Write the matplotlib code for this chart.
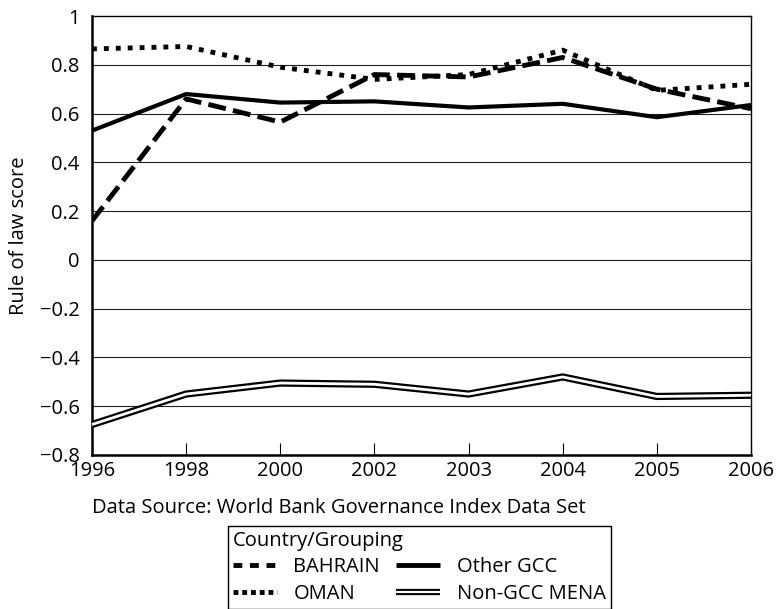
import matplotlib
matplotlib.use("Agg")
import matplotlib.pyplot as plt
from matplotlib.lines import Line2D

plt.rcParams['font.family'] = ['Open Sans', 'DejaVu Sans']

# data
years = ["1996", "1998", "2000", "2002", "2003", "2004", "2005", "2006"]
bahrain = [0.16, 0.66, 0.565, 0.76, 0.75, 0.83, 0.70, 0.62]
oman = [0.865, 0.875, 0.79, 0.74, 0.76, 0.86, 0.695, 0.72]
other_gcc = [0.53, 0.68, 0.645, 0.65, 0.625, 0.64, 0.585, 0.635]
non_gcc_mena = [-0.675, -0.55, -0.505, -0.51, -0.55, -0.48, -0.56, -0.555]
y_ticks = [-0.8, -0.6, -0.4, -0.2, 0, 0.2, 0.4, 0.6, 0.8, 1]
y_tick_labels = ["\u22120.8", "\u22120.6", "\u22120.4", "\u22120.2", "0", "0.2", "0.4", "0.6", "0.8", "1"]

fs = 14.5
fig = plt.figure(figsize=(7.76, 6.09), dpi=100)
ax = fig.add_axes([92 / 776, 1 - 455 / 609, 659 / 776, 439 / 609])
x = list(range(len(years)))

for y in y_ticks[1:-1]:
    ax.axhline(y, color="#222222", lw=0.8, zorder=1)

ax.plot(x, other_gcc, color="black", lw=3.0, solid_capstyle="butt", zorder=3)
ax.plot(x, non_gcc_mena, color="black", lw=5.2, solid_capstyle="butt", zorder=3)
ax.plot(x, non_gcc_mena, color="white", lw=2.0, solid_capstyle="butt", zorder=4)
ax.plot(x, bahrain, color="black", lw=3.5, dashes=(3.7, 1.5), dash_capstyle="butt", zorder=5)
ax.plot(x, oman, color="black", lw=3.5, dashes=(1, 1.45), dash_capstyle="butt", zorder=5)

ax.set_xlim(0, len(years) - 1)
ax.set_ylim(-0.8, 1)
ax.set_xticks(x)
ax.set_xticklabels(years, fontsize=fs)
ax.set_yticks(y_ticks)
ax.set_yticklabels(y_tick_labels, fontsize=fs)
ax.tick_params(axis="x", direction="in", length=9, width=0.8, pad=4)
ax.tick_params(axis="y", length=0, pad=9)
ax.set_ylabel("Rule of law score", fontsize=fs, labelpad=8)

for side in ["left", "bottom"]:
    ax.spines[side].set_linewidth(1.8)
for side in ["top", "right"]:
    ax.spines[side].set_linewidth(1.0)

fig.text(92 / 776, 1 - 508 / 609, "Data Source: World Bank Governance Index Data Set",
         fontsize=fs, va="center", ha="left")

handles = [
    Line2D([], [], color="black", lw=3.5, dashes=(1.8, 1.6), dash_capstyle="butt"),
    Line2D([], [], color="black", lw=3.5, dashes=(1, 0.8), dash_capstyle="butt"),
    Line2D([], [], color="black", lw=3.5, solid_capstyle="butt"),
    (Line2D([], [], color="black", lw=4.5, solid_capstyle="butt"),
     Line2D([], [], color="white", lw=1.6, solid_capstyle="butt")),
]
labels = ["BAHRAIN", "OMAN", "Other GCC", "Non-GCC MENA"]
leg = fig.legend(handles, labels, ncol=2, title="Country/Grouping", fontsize=fs,
                 title_fontsize=fs, loc="upper left",
                 bbox_to_anchor=(228 / 776, 1 - 526 / 609), borderaxespad=0,
                 fancybox=False, edgecolor="black", framealpha=1,
                 handlelength=2.2, handletextpad=0.8, columnspacing=0.8,
                 labelspacing=0.32, borderpad=0.25, alignment="left")
leg.get_frame().set_linewidth(1.0)

fig.savefig("out.png", dpi=100)
